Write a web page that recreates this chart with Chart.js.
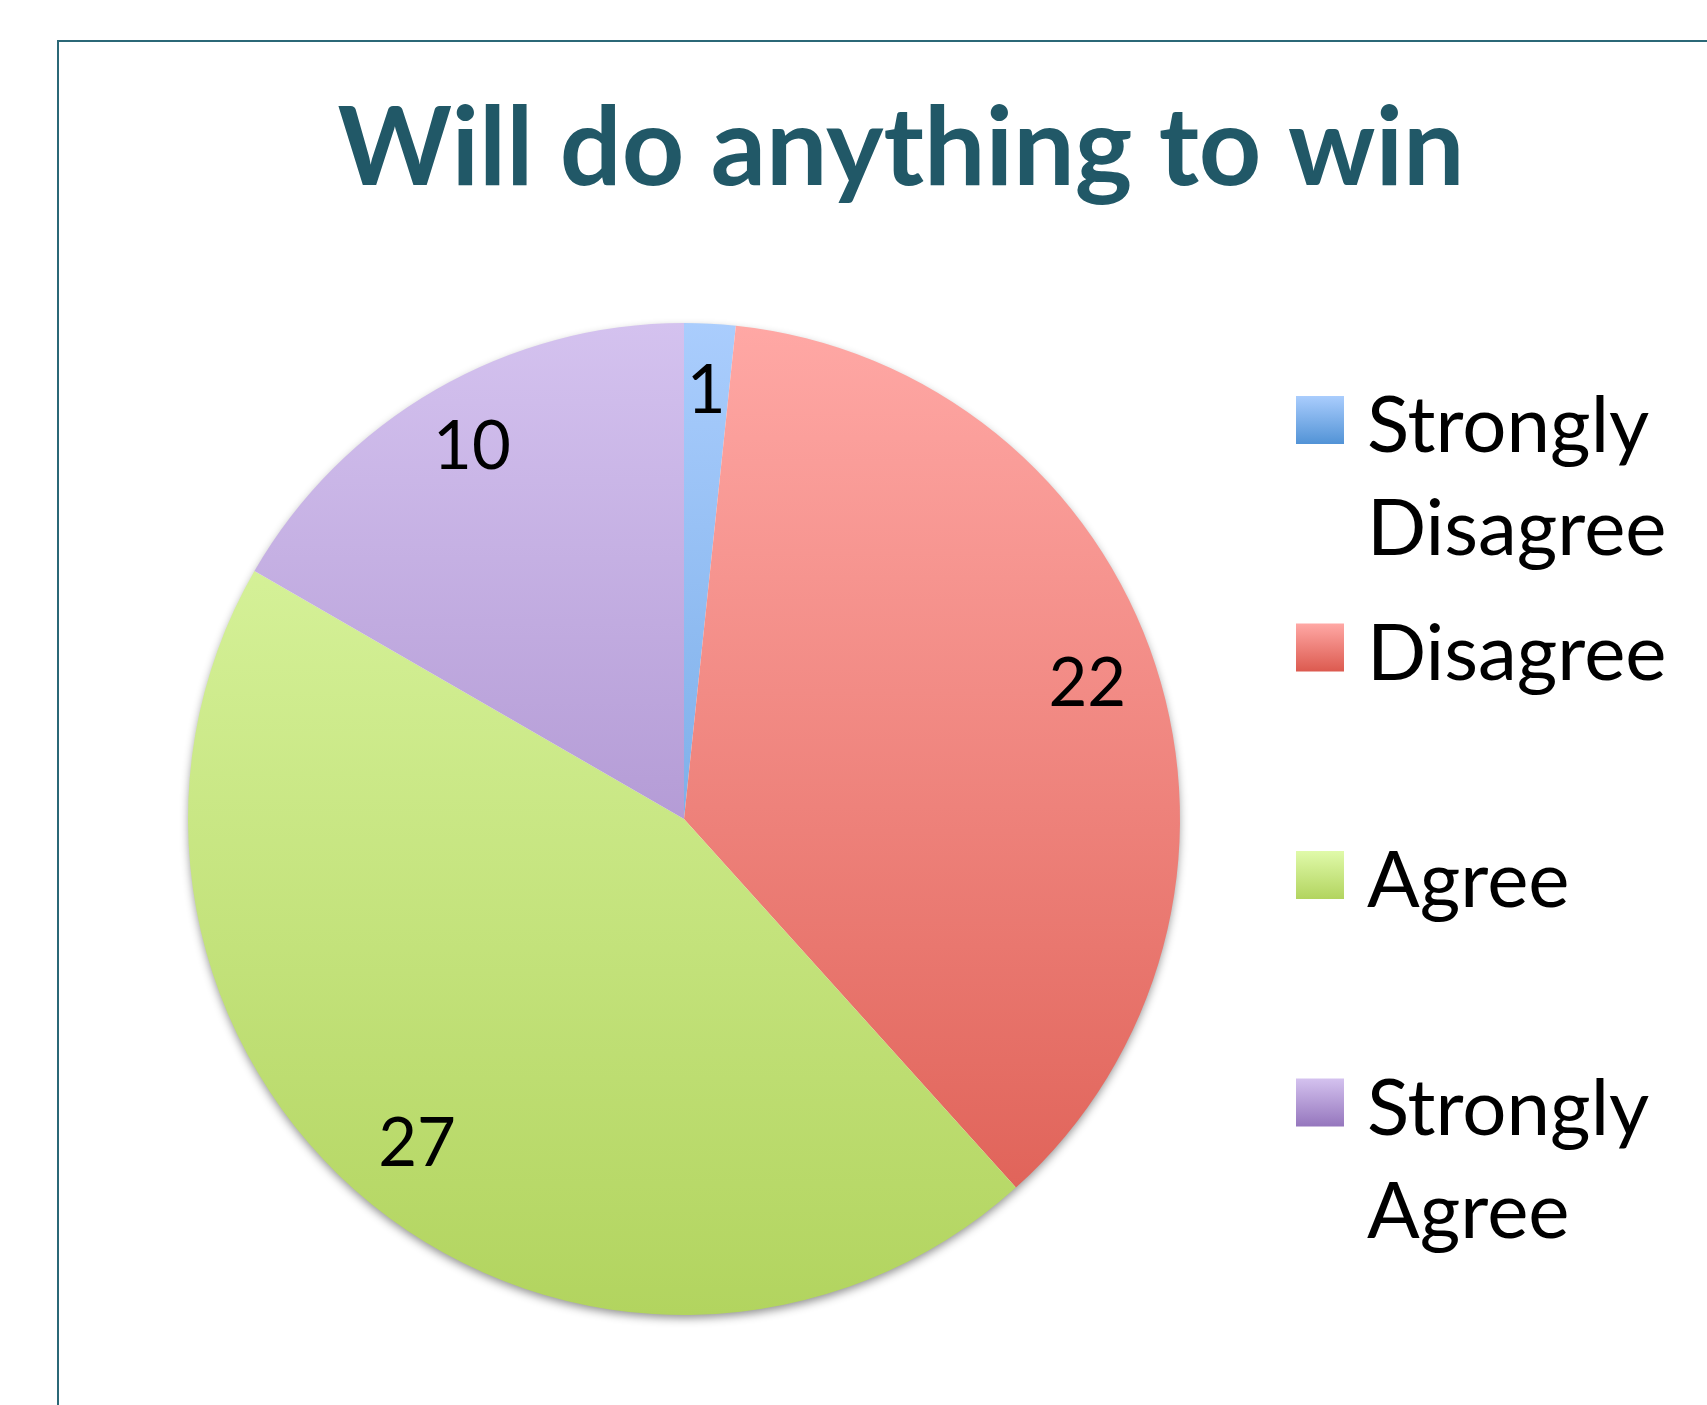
<!DOCTYPE html>
<html>
<head>
<meta charset="utf-8">
<script src="https://cdn.jsdelivr.net/npm/chart.js@4.4.1/dist/chart.umd.min.js"></script>
<style>
  html, body { margin: 0; padding: 0; background: #fff; overflow: hidden; }
  #wrap { position: relative; width: 1707px; height: 1405px; }
  #frame { position: absolute; left: 57px; top: 40px; width: 1700px; height: 1400px;
           border-top: 2px solid #2b6877; border-left: 2px solid #2b6877; }
  canvas { position: absolute; left: 0; top: 0; }
</style>
</head>
<body>
<div id="wrap">
  <div id="frame"></div>
  <canvas id="pieChart" width="1707" height="1405"></canvas>
</div>
<script>
// 응답 분포 — 파이 차트
const chartTitle = 'Will do anything to win';
const categories = ['Strongly Disagree', 'Disagree', 'Agree', 'Strongly Agree'];
const legendLines = [['Strongly', 'Disagree'], ['Disagree'], ['Agree'], ['Strongly', 'Agree']];
const counts = [1, 22, 27, 10];
// [top, bottom] colours of each slice's vertical gradient
const sliceColors = [
  ['#aacdfd', '#5293d6'],
  ['#ffa8a5', '#dc5a4f'],
  ['#e0faaa', '#b2d45f'],
  ['#d4c2ef', '#9576bd'],
];

const FONT = 'Lato, "Open Sans", sans-serif';

function vGrad(ctx, top, bottom, pair) {
  const g = ctx.createLinearGradient(0, top, 0, bottom);
  g.addColorStop(0, pair[0]);
  g.addColorStop(1, pair[1]);
  return g;
}

const decor = {
  id: 'decor',
  beforeDatasetsDraw(chart) {
    // soft shadow under the pie
    const arc = chart.getDatasetMeta(0).data[0];
    if (!arc) return;
    const ctx = chart.ctx;
    ctx.save();
    ctx.shadowColor = 'rgba(0,0,0,0.45)';
    ctx.shadowBlur = 10;
    ctx.shadowOffsetY = 4;
    ctx.fillStyle = '#fff';
    ctx.beginPath();
    ctx.arc(arc.x, arc.y, arc.outerRadius - 1, 0, Math.PI * 2);
    ctx.fill();
    ctx.restore();
  },
  afterDatasetsDraw(chart) {
    const ctx = chart.ctx;
    const meta = chart.getDatasetMeta(0);
    ctx.save();
    ctx.fillStyle = '#000';
    ctx.font = '67px ' + FONT;
    ctx.textAlign = 'center';
    ctx.textBaseline = 'middle';
    meta.data.forEach((a, i) => {
      const mid = (a.startAngle + a.endAngle) / 2;
      const r = a.outerRadius * 0.855;
      ctx.fillText(String(counts[i]), a.x + Math.cos(mid) * r, a.y + Math.sin(mid) * r - 4);
    });
    ctx.restore();
  },
  afterDraw(chart) {
    const ctx = chart.ctx;
    const area = chart.chartArea;
    ctx.save();
    // title
    ctx.fillStyle = '#215867';
    ctx.font = 'bold 109px ' + FONT;
    ctx.textAlign = 'center';
    ctx.textBaseline = 'alphabetic';
    ctx.fillText(chartTitle, 901, 185);

    // legend
    const boxX = area.right + 116, box = 48;
    const firstY = 420, step = 227.5;
    ctx.font = '78px ' + FONT;
    ctx.textAlign = 'left';
    categories.forEach((c, i) => {
      const cy = firstY + i * step;
      ctx.fillStyle = vGrad(ctx, cy - box / 2, cy + box / 2, sliceColors[i]);
      ctx.fillRect(boxX, cy - box / 2, box, box);
      ctx.fillStyle = '#000';
      legendLines[i].forEach((ln, k) => {
        ctx.fillText(ln, boxX + 71, cy + 32 + k * 103);
      });
    });
    ctx.restore();
  },
};

function draw() {
  const ctx = document.getElementById('pieChart');
  new Chart(ctx, {
    type: 'pie',
    data: {
      labels: categories,
      datasets: [{
        data: counts,
        backgroundColor: (c) => {
          const area = c.chart.chartArea;
          if (!area) return sliceColors[c.dataIndex][0];
          return vGrad(c.chart.ctx, area.top, area.bottom, sliceColors[c.dataIndex]);
        },
        borderWidth: 0,
      }],
    },
    options: {
      responsive: false,
      animation: false,
      layout: { padding: { left: 188, right: 527, top: 323, bottom: 90 } },
      plugins: {
        legend: { display: false },
        title: { display: false },
        tooltip: { enabled: false },
      },
    },
    plugins: [decor],
  });
}

Promise.all([
  document.fonts.load('bold 109px Lato'),
  document.fonts.load('78px Lato'),
]).then(draw, draw);
</script>
</body>
</html>
